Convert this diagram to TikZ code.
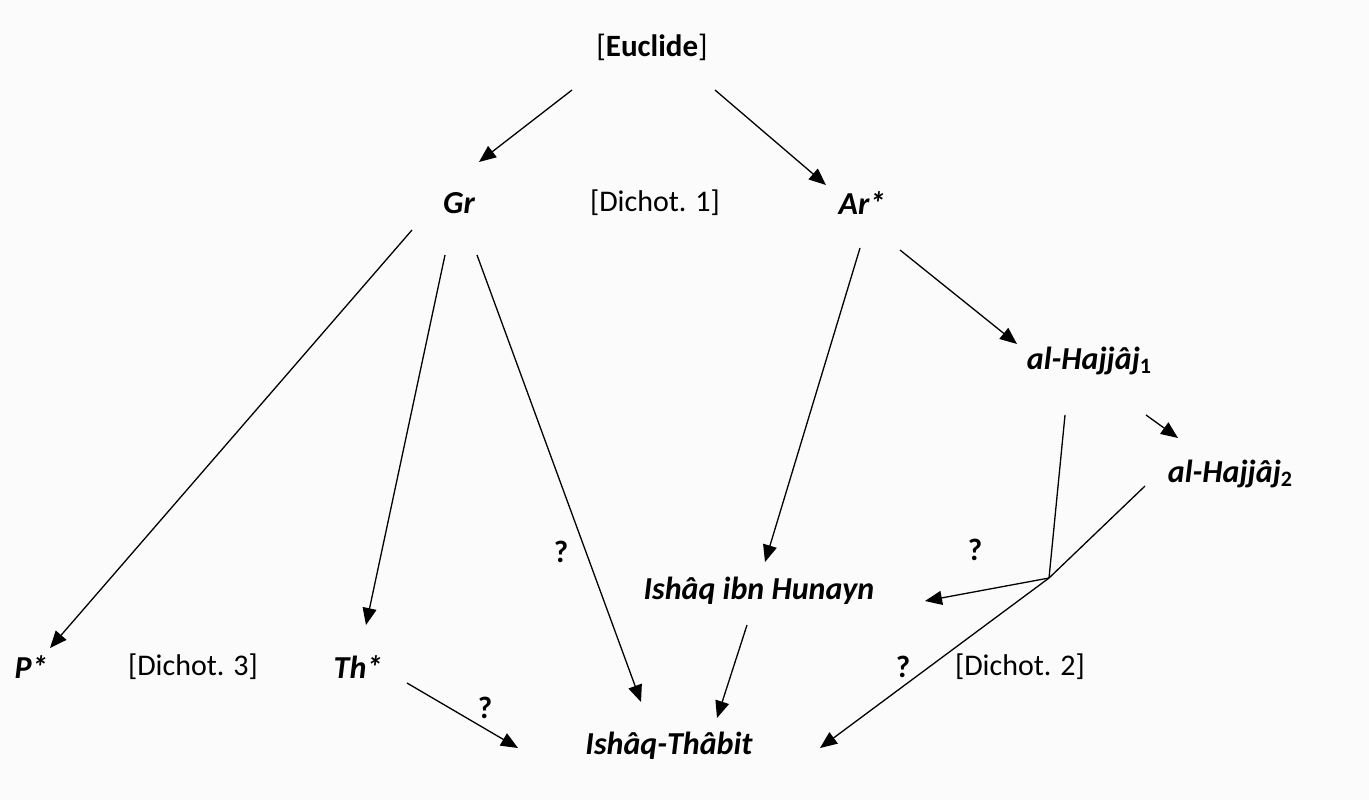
\documentclass[tikz,border=0pt]{standalone}
\usepackage{fontspec}
\setmainfont{Carlito}
\usetikzlibrary{arrows.meta,calc}
\definecolor{bg}{HTML}{FBFBFB}
\newcommand{\subd}[1]{\raisebox{-0.25ex}{\fontsize{11}{11}\selectfont\upshape #1}}
\tikzset{
  lab/.style={font=\fontsize{15}{17}\selectfont, inner sep=0pt, anchor=center},
  nm/.style={lab, font=\fontsize{16}{18}\selectfont\bfseries\itshape},
  q/.style={lab, font=\fontsize{15.5}{17}\selectfont\bfseries},
  arr/.style={line width=0.65pt, -{Triangle[length=8.5pt,width=7pt]}},
  ln/.style={line width=0.65pt}
}
\begin{document}
\begin{tikzpicture}[x=0.5pt,y=-0.5pt]
\fill[bg] (0,0) rectangle (1369,800);
\useasboundingbox (0,0) rectangle (1369,800);
% nodes
\node[lab, font=\fontsize{15.5}{17}\selectfont] (eu) at (652,47) {[\textbf{Euclide}]};
\node[nm] (gr) at (459,203) {Gr};
\node[lab] (d1) at (655,203) {[Dichot. 1]};
\node[nm] (ar) at (862,203) {Ar*};
\node[nm] (h1) at (1089,361) {al-Hajjâj\subd{1}};
\node[nm] (h2) at (1230,474) {al-Hajjâj\subd{2}};
\node[nm] (ih) at (759,591) {Ishâq ibn Hunayn};
\node[nm] (p) at (31,667) {P*};
\node[lab] (d3) at (193,667) {[Dichot. 3]};
\node[nm] (th) at (358,667) {Th*};
\node[nm] (it) at (669,746) {Ishâq-Thâbit};
\node[lab] (d2) at (1020,667) {[Dichot. 2]};
\node[q] (q1) at (561,552) {?};
\node[q] (q2) at (975,550) {?};
\node[q] (q3) at (485,708) {?};
\node[q] (q4) at (903,667) {?};
\coordinate (jn) at (1049,578);
% connectors
\draw[arr] ($(eu)+(-80,43)$) -- ($(gr)+(20,-41)$);
\draw[arr] ($(eu)+(63,43)$) -- ($(ar)+(-36,-18)$);
\draw[arr] ($(gr)+(-47,27)$) -- ($(p)+(19,-19)$);
\draw[arr] ($(gr)+(-14,52)$) -- ($(th)+(8,-42)$);
\draw[arr] ($(gr)+(18,52)$) -- ($(it)+(-28,-44)$);
\draw[arr] ($(ar)+(-2,45)$) -- ($(ih)+(6,-29)$);
\draw[arr] ($(ar)+(38,47)$) -- ($(h1)+(-72,-17)$);
\draw[arr] ($(h1)+(57,54)$) -- ($(h2)+(-52,-36)$);
\draw[ln] ($(h1)+(-24,54)$) -- (jn);
\draw[ln] ($(h2)+(-85,12)$) -- (jn);
\draw[arr] (jn) -- ($(ih)+(166,10)$);
\draw[arr] (jn) -- ($(it)+(151,2)$);
\draw[arr] ($(ih)+(-12,34)$) -- ($(it)+(48,-28)$);
\draw[arr] ($(th)+(49,16)$) -- ($(it)+(-151,2)$);
\end{tikzpicture}
\end{document}
